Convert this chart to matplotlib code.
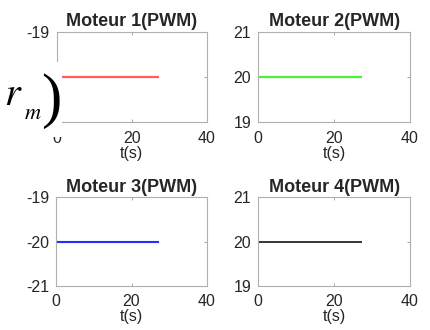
import matplotlib
matplotlib.use("Agg")
import matplotlib.pyplot as plt
from matplotlib.patches import Rectangle

# Motor PWM signals over time
t = [0.0, 27.3]
motor1 = [-20, -20]
motor2 = [20, 20]
motor3 = [-20, -20]
motor4 = [20, 20]

titles = ["Moteur 1(PWM)", "Moteur 2(PWM)", "Moteur 3(PWM)", "Moteur 4(PWM)"]
series = [motor1, motor2, motor3, motor4]
colors = ["#ff5c5c", "#4cf036", "#2a2aff", "#262626"]
widths = [1.6, 1.6, 1.5, 1.3]
ylims = [(-21, -19), (19, 21), (-21, -19), (19, 21)]
yticks = [[-21, -20, -19], [19, 20, 21], [-21, -20, -19], [19, 20, 21]]
xticks = [0, 20, 40]

plt.rcParams["font.family"] = ["Liberation Sans", "DejaVu Sans"]

W, H = 430, 330
fig = plt.figure(figsize=(W / 100, H / 100), dpi=100)

# axes boxes in pixel units: left, top, right, bottom
boxes = [(56.7, 31.7, 207, 122.2), (258.3, 31.7, 410, 122.2),
         (56.0, 197.3, 207, 285.7), (258.3, 197.3, 410, 285.7)]

txt = "#262626"
for i in range(4):
    l, tp, r, b = boxes[i]
    ax = fig.add_axes([l / W, 1 - b / H, (r - l) / W, (b - tp) / H])
    ax.plot(t, series[i], color=colors[i], lw=widths[i], solid_capstyle="butt")
    ax.set_xlim(0, 40)
    ax.set_ylim(*ylims[i])
    ax.set_xticks(xticks)
    ax.set_yticks(yticks[i])
    ylabels = [str(v) for v in yticks[i]]
    if i == 0:
        # lower labels sit under the equation fragment drawn below
        ylabels = ["", "", ylabels[2]]
    ax.set_xticklabels([str(v) for v in xticks])
    ax.set_yticklabels(ylabels)
    ax.tick_params(direction="in", length=2.5, width=0.6, color="#999999",
                   labelsize=11.5, labelcolor=txt, top=True, right=True)
    ax.tick_params(axis="x", pad=6)
    ax.tick_params(axis="y", pad=5)
    for s in ax.spines.values():
        s.set_color("#b0b0b0")
        s.set_linewidth(0.8)
    ax.set_title(titles[i], fontsize=13, fontweight="bold", color=txt, pad=4)
    ax.set_xlabel("t(s)", fontsize=11.5, color=txt, labelpad=0)

# equation fragment overlaid on the left of the first panel
fig.patches.append(Rectangle((0, 1 - 137 / H), 62 / W, (137 - 62) / H,
                             transform=fig.transFigure, facecolor="white",
                             edgecolor="none", zorder=10))
fig.text(4 / W, 1 - 105 / H, r"$r$", fontsize=29, ha="left",
         va="baseline", color="black", zorder=11, math_fontfamily="stix")
fig.text(24 / W, 1 - 119 / H, r"$m$", fontsize=16, ha="left",
         va="baseline", color="black", zorder=11, math_fontfamily="stix")
fig.text(61 / W, 1 - 116 / H, ")", fontsize=44, ha="right",
         va="baseline", color="black", zorder=11,
         family=["Liberation Serif", "DejaVu Serif"])

fig.savefig("out.png", dpi=100)
